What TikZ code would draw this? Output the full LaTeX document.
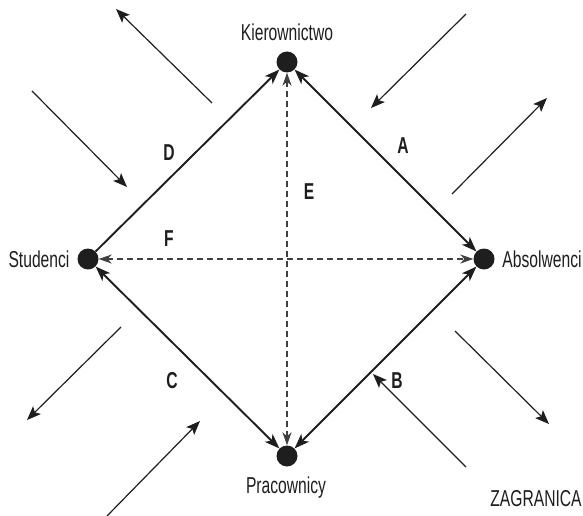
\documentclass[tikz,border=0pt]{standalone}
\usepackage{fontspec}
\setmainfont{Liberation Sans}[FakeStretch=0.68]
\usetikzlibrary{arrows.meta}
\definecolor{ink}{HTML}{1E1E1E}
\begin{document}
\begin{tikzpicture}[x=1pt,y=-1pt,
  dot/.style={circle,fill=ink,minimum size=21pt,inner sep=0pt},
  lbl/.style={font=\fontsize{23}{23}\selectfont,text=ink,inner sep=0pt},
  let/.style={font=\fontsize{23}{23}\selectfont\bfseries,text=ink,inner sep=0pt},
  edge/.style={draw=ink,line width=1.9pt},
  dedge/.style={draw=ink!85,line width=1.1pt,dash pattern=on 6pt off 4pt},
  big/.style={-{Stealth[length=15pt,width=11pt,inset=4pt]}},
  bigb/.style={{Stealth[length=15pt,width=11pt,inset=4pt]}-{Stealth[length=15pt,width=11pt,inset=4pt]}},
  dash2/.style={{Stealth[length=13pt,width=9pt,inset=4pt]}-{Stealth[length=13pt,width=9pt,inset=4pt]}},
  outer/.style={draw=ink,line width=1.2pt,-{Stealth[length=14pt,width=11pt,inset=3pt]}}]
\useasboundingbox (0,0) rectangle (583,516);
\node[dot] (K) at (287,62) {};
\node[dot] (S) at (88,259) {};
\node[dot] (A) at (484,259) {};
\node[dot] (P) at (287,456) {};
\node[lbl] (tK) at (287,32) {Kierownictwo};
\node[lbl] (tS) at (39,259) {Studenci};
\node[lbl] (tA) at (542,259) {Absolwenci};
\node[lbl] (tP) at (286,488) {Pracownicy};
\node[lbl] (tZ) at (536,499) {ZAGRANICA};
% diamond
\draw[edge,big] (S) -- (K);
\draw[edge,bigb] (K) -- (A);
\draw[edge,bigb] (A) -- (P);
\draw[edge,bigb] (P) -- (S);
\draw[dedge,dash2] (K) -- (P);
\draw[dedge,dash2] (S) -- (A);
% letters
\node[let] (lD) at (169,153) {D};
\node[let] (lA) at (403,146) {A};
\node[let] (lE) at (309,192) {E};
\node[let] (lF) at (169,239) {F};
\node[let] (lC) at (172,381) {C};
\node[let] (lB) at (397,381) {B};
% outer arrows
\coordinate (o1a) at (212,103); \coordinate (o1b) at (116,9);
\coordinate (o2a) at (466,14);  \coordinate (o2b) at (371,108);
\coordinate (o3a) at (32,91);   \coordinate (o3b) at (127,187);
\coordinate (o4a) at (452,194); \coordinate (o4b) at (547,98);
\coordinate (o5a) at (121,327); \coordinate (o5b) at (27,420);
\coordinate (o6a) at (455,331); \coordinate (o6b) at (549,424);
\coordinate (o7a) at (107,516); \coordinate (o7b) at (200,421);
\coordinate (o8a) at (466,467); \coordinate (o8b) at (373,374);
\foreach \i in {1,...,8} {\draw[outer] (o\i a) -- (o\i b);}
\end{tikzpicture}
\end{document}
